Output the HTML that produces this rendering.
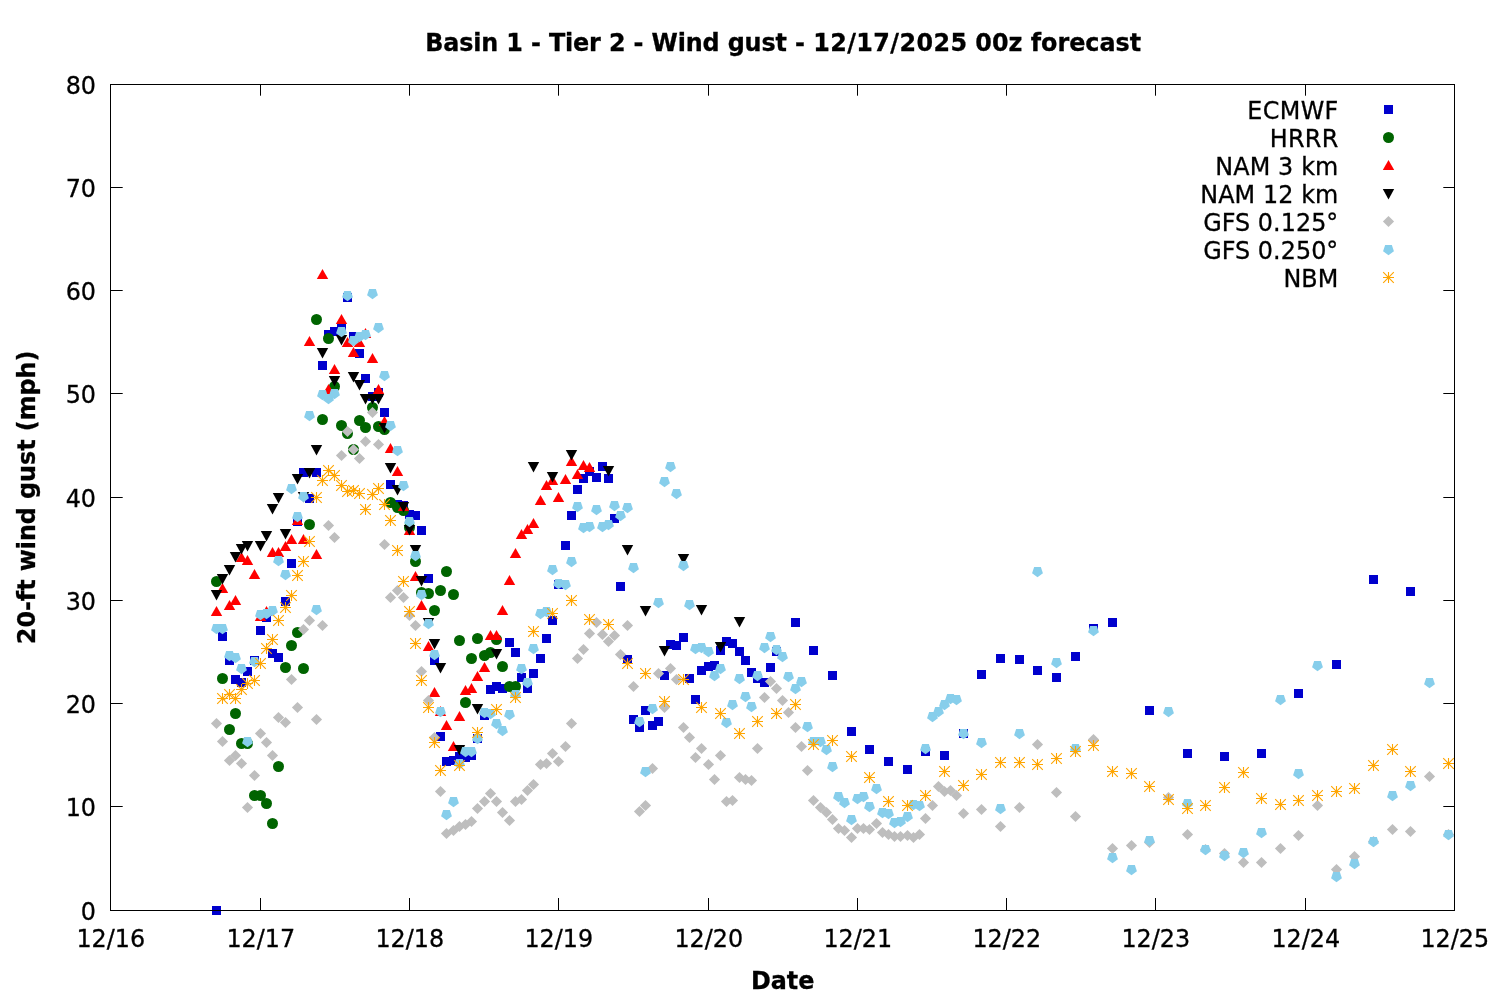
<!DOCTYPE html>
<html lang="en"><head><meta charset="utf-8"><title>Basin 1 - Tier 2 - Wind gust</title>
<style>html,body{margin:0;padding:0;background:#fff}svg{display:block}text{font-family:"DejaVu Sans","Liberation Sans",sans-serif;fill:#000;stroke:#000;stroke-width:.3px}.b{font-weight:bold}</style></head><body>
<svg width="1500" height="1000" viewBox="0 0 1500 1000">
<rect width="1500" height="1000" fill="#fff"/>
<defs>
<rect id="m1" x="-4.5" y="-4.5" width="9" height="9" fill="#0000cd"/>
<circle id="m2" r="5.5" fill="#006400"/>
<path id="m3" d="M0,-5.6 L5.7,4.6 L-5.7,4.6Z" fill="#ff0000"/>
<path id="m4" d="M0,5.9 L5.7,-4.4 L-5.7,-4.4Z" fill="#000"/>
<path id="m5" d="M0,-5.6 L5.6,0 L0,5.6 L-5.6,0Z" fill="#bebebe"/>
<path id="m6" d="M0.00,5.70 L-5.42,1.76 L-3.35,-4.61 L3.35,-4.61 L5.42,1.76Z" fill="#87ceeb"/>
<path id="m7" d="M0,-5.5V5.5M-5.5,0H5.5M-5.3,-5.3L5.3,5.3M-5.3,5.3L5.3,-5.3" stroke="#ffa500" stroke-width="1.1" fill="none"/>
</defs>
<text class="b" textLength="379.7" lengthAdjust="spacing" transform="translate(425.2,50.9) scale(1,1.04)" font-size="23.85" text-anchor="start">Basin 1 - Tier 2 - Wind gust -</text>
<text class="b" textLength="153.9" lengthAdjust="spacing" transform="translate(813.2,50.9) scale(1,1.04)" font-size="23.85" text-anchor="start">12/17/2025</text>
<text class="b" transform="translate(975.3,50.9) scale(1,1.04)" font-size="23.85" text-anchor="start">00z forecast</text>
<text class="b" transform="translate(782.7,989.1) scale(1,1.04)" font-size="23.85" text-anchor="middle">Date</text>
<text class="b" textLength="293.5" lengthAdjust="spacing" transform="translate(35.2,497.4) rotate(-90) scale(1,1.04)" font-size="23.85" text-anchor="middle">20-ft wind gust (mph)</text>
<text transform="translate(96.0,919.5) scale(1,1.04)" font-size="23.85" text-anchor="end">0</text>
<text transform="translate(96.0,815.5) scale(1,1.04)" font-size="23.85" text-anchor="end">10</text>
<text transform="translate(96.0,712.5) scale(1,1.04)" font-size="23.85" text-anchor="end">20</text>
<text transform="translate(96.0,609.5) scale(1,1.04)" font-size="23.85" text-anchor="end">30</text>
<text transform="translate(96.0,506.5) scale(1,1.04)" font-size="23.85" text-anchor="end">40</text>
<text transform="translate(96.0,402.5) scale(1,1.04)" font-size="23.85" text-anchor="end">50</text>
<text transform="translate(96.0,299.5) scale(1,1.04)" font-size="23.85" text-anchor="end">60</text>
<text transform="translate(96.0,196.5) scale(1,1.04)" font-size="23.85" text-anchor="end">70</text>
<text transform="translate(96.0,93.5) scale(1,1.04)" font-size="23.85" text-anchor="end">80</text>
<text transform="translate(110.8,947.3) scale(1,1.04)" font-size="23.85" text-anchor="middle">12/16</text>
<text transform="translate(260.8,947.3) scale(1,1.04)" font-size="23.85" text-anchor="middle">12/17</text>
<text transform="translate(409.8,947.3) scale(1,1.04)" font-size="23.85" text-anchor="middle">12/18</text>
<text transform="translate(558.8,947.3) scale(1,1.04)" font-size="23.85" text-anchor="middle">12/19</text>
<text transform="translate(708.8,947.3) scale(1,1.04)" font-size="23.85" text-anchor="middle">12/20</text>
<text transform="translate(857.8,947.3) scale(1,1.04)" font-size="23.85" text-anchor="middle">12/21</text>
<text transform="translate(1006.8,947.3) scale(1,1.04)" font-size="23.85" text-anchor="middle">12/22</text>
<text transform="translate(1155.8,947.3) scale(1,1.04)" font-size="23.85" text-anchor="middle">12/23</text>
<text transform="translate(1305.8,947.3) scale(1,1.04)" font-size="23.85" text-anchor="middle">12/24</text>
<text transform="translate(1454.8,947.3) scale(1,1.04)" font-size="23.85" text-anchor="middle">12/25</text>
<path d="M110.5,806.5h12.2M1454.5,806.5h-11.2M110.5,703.5h12.2M1454.5,703.5h-11.2M110.5,600.5h12.2M1454.5,600.5h-11.2M110.5,497.5h12.2M1454.5,497.5h-11.2M110.5,393.5h12.2M1454.5,393.5h-11.2M110.5,290.5h12.2M1454.5,290.5h-11.2M110.5,187.5h12.2M1454.5,187.5h-11.2M260.50,910.5v-12.5M260.50,84.5v11.2M409.50,910.5v-12.5M409.50,84.5v11.2M558.50,910.5v-12.5M558.50,84.5v11.2M708.50,910.5v-12.5M708.50,84.5v11.2M857.50,910.5v-12.5M857.50,84.5v11.2M1006.50,910.5v-12.5M1006.50,84.5v11.2M1155.50,910.5v-12.5M1155.50,84.5v11.2M1305.50,910.5v-12.5M1305.50,84.5v11.2" stroke="#000" stroke-width="1" fill="none"/>
<text letter-spacing="0.35" transform="translate(1338.6499999999999,119.0) scale(1,1.04)" font-size="23.85" text-anchor="end">ECMWF</text>
<use href="#m1" x="1388.5" y="109.5"/>
<text letter-spacing="0.3" transform="translate(1338.6,146.9) scale(1,1.04)" font-size="23.85" text-anchor="end">HRRR</text>
<use href="#m2" x="1388.5" y="137.5"/>
<text letter-spacing="0.13" transform="translate(1338.43,174.9) scale(1,1.04)" font-size="23.85" text-anchor="end">NAM 3 km</text>
<use href="#m3" x="1388.5" y="165.5"/>
<text letter-spacing="0.1" transform="translate(1338.3999999999999,202.9) scale(1,1.04)" font-size="23.85" text-anchor="end">NAM 12 km</text>
<use href="#m4" x="1388.5" y="193.5"/>
<text letter-spacing="0.05" transform="translate(1338.35,230.9) scale(1,1.04)" font-size="23.85" text-anchor="end">GFS 0.125°</text>
<use href="#m5" x="1388.5" y="221.5"/>
<text letter-spacing="0.05" transform="translate(1338.35,258.9) scale(1,1.04)" font-size="23.85" text-anchor="end">GFS 0.250°</text>
<use href="#m6" x="1388.5" y="249.5"/>
<text transform="translate(1338.3,286.9) scale(1,1.04)" font-size="23.85" text-anchor="end">NBM</text>
<use href="#m7" x="1388.5" y="277.5"/>
<g>
<use href="#m1" x="216.5" y="910.5"/>
<use href="#m1" x="222.5" y="636.5"/>
<use href="#m1" x="229.5" y="660.5"/>
<use href="#m1" x="235.5" y="679.5"/>
<use href="#m1" x="241.5" y="682.5"/>
<use href="#m1" x="247.5" y="671.5"/>
<use href="#m1" x="254.5" y="660.5"/>
<use href="#m1" x="260.5" y="630.5"/>
<use href="#m1" x="266.5" y="617.5"/>
<use href="#m1" x="272.5" y="653.5"/>
<use href="#m1" x="278.5" y="657.5"/>
<use href="#m1" x="285.5" y="601.5"/>
<use href="#m1" x="291.5" y="563.5"/>
<use href="#m1" x="297.5" y="521.5"/>
<use href="#m1" x="303.5" y="472.5"/>
<use href="#m1" x="309.5" y="498.5"/>
<use href="#m1" x="316.5" y="472.5"/>
<use href="#m1" x="322.5" y="365.5"/>
<use href="#m1" x="328.5" y="334.5"/>
<use href="#m1" x="334.5" y="331.5"/>
<use href="#m1" x="341.5" y="326.5"/>
<use href="#m1" x="347.5" y="297.5"/>
<use href="#m1" x="353.5" y="336.5"/>
<use href="#m1" x="359.5" y="353.5"/>
<use href="#m1" x="365.5" y="378.5"/>
<use href="#m1" x="372.5" y="396.5"/>
<use href="#m1" x="378.5" y="392.5"/>
<use href="#m1" x="384.5" y="412.5"/>
<use href="#m1" x="390.5" y="484.5"/>
<use href="#m1" x="397.5" y="504.5"/>
<use href="#m1" x="403.5" y="505.5"/>
<use href="#m1" x="409.5" y="514.5"/>
<use href="#m1" x="415.5" y="515.5"/>
<use href="#m1" x="421.5" y="530.5"/>
<use href="#m1" x="428.5" y="578.5"/>
<use href="#m1" x="434.5" y="660.5"/>
<use href="#m1" x="440.5" y="736.5"/>
<use href="#m1" x="446.5" y="761.5"/>
<use href="#m1" x="453.5" y="760.5"/>
<use href="#m1" x="459.5" y="756.5"/>
<use href="#m1" x="465.5" y="757.5"/>
<use href="#m1" x="471.5" y="755.5"/>
<use href="#m1" x="477.5" y="738.5"/>
<use href="#m1" x="484.5" y="715.5"/>
<use href="#m1" x="490.5" y="689.5"/>
<use href="#m1" x="496.5" y="686.5"/>
<use href="#m1" x="502.5" y="688.5"/>
<use href="#m1" x="509.5" y="642.5"/>
<use href="#m1" x="515.5" y="652.5"/>
<use href="#m1" x="521.5" y="677.5"/>
<use href="#m1" x="527.5" y="688.5"/>
<use href="#m1" x="533.5" y="673.5"/>
<use href="#m1" x="540.5" y="658.5"/>
<use href="#m1" x="546.5" y="638.5"/>
<use href="#m1" x="552.5" y="620.5"/>
<use href="#m1" x="558.5" y="584.5"/>
<use href="#m1" x="565.5" y="545.5"/>
<use href="#m1" x="571.5" y="515.5"/>
<use href="#m1" x="577.5" y="489.5"/>
<use href="#m1" x="583.5" y="478.5"/>
<use href="#m1" x="589.5" y="471.5"/>
<use href="#m1" x="596.5" y="477.5"/>
<use href="#m1" x="602.5" y="466.5"/>
<use href="#m1" x="608.5" y="478.5"/>
<use href="#m1" x="614.5" y="518.5"/>
<use href="#m1" x="620.5" y="586.5"/>
<use href="#m1" x="627.5" y="659.5"/>
<use href="#m1" x="633.5" y="719.5"/>
<use href="#m1" x="639.5" y="727.5"/>
<use href="#m1" x="645.5" y="710.5"/>
<use href="#m1" x="652.5" y="725.5"/>
<use href="#m1" x="658.5" y="721.5"/>
<use href="#m1" x="664.5" y="675.5"/>
<use href="#m1" x="670.5" y="644.5"/>
<use href="#m1" x="676.5" y="645.5"/>
<use href="#m1" x="683.5" y="637.5"/>
<use href="#m1" x="689.5" y="678.5"/>
<use href="#m1" x="695.5" y="699.5"/>
<use href="#m1" x="701.5" y="670.5"/>
<use href="#m1" x="708.5" y="666.5"/>
<use href="#m1" x="714.5" y="665.5"/>
<use href="#m1" x="720.5" y="650.5"/>
<use href="#m1" x="726.5" y="641.5"/>
<use href="#m1" x="732.5" y="643.5"/>
<use href="#m1" x="739.5" y="651.5"/>
<use href="#m1" x="745.5" y="660.5"/>
<use href="#m1" x="751.5" y="672.5"/>
<use href="#m1" x="757.5" y="678.5"/>
<use href="#m1" x="764.5" y="682.5"/>
<use href="#m1" x="770.5" y="667.5"/>
<use href="#m1" x="776.5" y="651.5"/>
<use href="#m1" x="795.5" y="622.5"/>
<use href="#m1" x="813.5" y="650.5"/>
<use href="#m1" x="832.5" y="675.5"/>
<use href="#m1" x="851.5" y="731.5"/>
<use href="#m1" x="869.5" y="749.5"/>
<use href="#m1" x="888.5" y="761.5"/>
<use href="#m1" x="907.5" y="769.5"/>
<use href="#m1" x="925.5" y="751.5"/>
<use href="#m1" x="944.5" y="755.5"/>
<use href="#m1" x="963.5" y="733.5"/>
<use href="#m1" x="981.5" y="674.5"/>
<use href="#m1" x="1000.5" y="658.5"/>
<use href="#m1" x="1019.5" y="659.5"/>
<use href="#m1" x="1037.5" y="670.5"/>
<use href="#m1" x="1056.5" y="677.5"/>
<use href="#m1" x="1075.5" y="656.5"/>
<use href="#m1" x="1093.5" y="628.5"/>
<use href="#m1" x="1112.5" y="622.5"/>
<use href="#m1" x="1149.5" y="710.5"/>
<use href="#m1" x="1187.5" y="753.5"/>
<use href="#m1" x="1224.5" y="756.5"/>
<use href="#m1" x="1261.5" y="753.5"/>
<use href="#m1" x="1298.5" y="693.5"/>
<use href="#m1" x="1336.5" y="664.5"/>
<use href="#m1" x="1373.5" y="579.5"/>
<use href="#m1" x="1410.5" y="591.5"/>
</g>
<g>
<use href="#m2" x="216.5" y="581.5"/>
<use href="#m2" x="222.5" y="678.5"/>
<use href="#m2" x="229.5" y="729.5"/>
<use href="#m2" x="235.5" y="713.5"/>
<use href="#m2" x="241.5" y="743.5"/>
<use href="#m2" x="247.5" y="743.5"/>
<use href="#m2" x="254.5" y="795.5"/>
<use href="#m2" x="260.5" y="795.5"/>
<use href="#m2" x="266.5" y="803.5"/>
<use href="#m2" x="272.5" y="823.5"/>
<use href="#m2" x="278.5" y="766.5"/>
<use href="#m2" x="285.5" y="667.5"/>
<use href="#m2" x="291.5" y="645.5"/>
<use href="#m2" x="297.5" y="632.5"/>
<use href="#m2" x="303.5" y="668.5"/>
<use href="#m2" x="309.5" y="524.5"/>
<use href="#m2" x="316.5" y="319.5"/>
<use href="#m2" x="322.5" y="419.5"/>
<use href="#m2" x="328.5" y="338.5"/>
<use href="#m2" x="334.5" y="386.5"/>
<use href="#m2" x="341.5" y="425.5"/>
<use href="#m2" x="347.5" y="433.5"/>
<use href="#m2" x="353.5" y="449.5"/>
<use href="#m2" x="359.5" y="420.5"/>
<use href="#m2" x="365.5" y="427.5"/>
<use href="#m2" x="372.5" y="407.5"/>
<use href="#m2" x="378.5" y="426.5"/>
<use href="#m2" x="384.5" y="429.5"/>
<use href="#m2" x="390.5" y="502.5"/>
<use href="#m2" x="397.5" y="507.5"/>
<use href="#m2" x="403.5" y="510.5"/>
<use href="#m2" x="409.5" y="527.5"/>
<use href="#m2" x="415.5" y="561.5"/>
<use href="#m2" x="421.5" y="592.5"/>
<use href="#m2" x="428.5" y="593.5"/>
<use href="#m2" x="434.5" y="610.5"/>
<use href="#m2" x="440.5" y="590.5"/>
<use href="#m2" x="446.5" y="571.5"/>
<use href="#m2" x="453.5" y="594.5"/>
<use href="#m2" x="459.5" y="640.5"/>
<use href="#m2" x="465.5" y="702.5"/>
<use href="#m2" x="471.5" y="658.5"/>
<use href="#m2" x="477.5" y="638.5"/>
<use href="#m2" x="484.5" y="655.5"/>
<use href="#m2" x="490.5" y="652.5"/>
<use href="#m2" x="496.5" y="639.5"/>
<use href="#m2" x="502.5" y="666.5"/>
<use href="#m2" x="509.5" y="686.5"/>
<use href="#m2" x="515.5" y="686.5"/>
</g>
<g>
<use href="#m3" x="216.5" y="611.5"/>
<use href="#m3" x="222.5" y="588.5"/>
<use href="#m3" x="229.5" y="605.5"/>
<use href="#m3" x="235.5" y="600.5"/>
<use href="#m3" x="241.5" y="557.5"/>
<use href="#m3" x="247.5" y="560.5"/>
<use href="#m3" x="254.5" y="574.5"/>
<use href="#m3" x="260.5" y="616.5"/>
<use href="#m3" x="266.5" y="611.5"/>
<use href="#m3" x="272.5" y="552.5"/>
<use href="#m3" x="278.5" y="552.5"/>
<use href="#m3" x="285.5" y="546.5"/>
<use href="#m3" x="291.5" y="539.5"/>
<use href="#m3" x="297.5" y="520.5"/>
<use href="#m3" x="303.5" y="539.5"/>
<use href="#m3" x="309.5" y="341.5"/>
<use href="#m3" x="316.5" y="554.5"/>
<use href="#m3" x="322.5" y="274.5"/>
<use href="#m3" x="328.5" y="389.5"/>
<use href="#m3" x="334.5" y="369.5"/>
<use href="#m3" x="341.5" y="319.5"/>
<use href="#m3" x="347.5" y="342.5"/>
<use href="#m3" x="353.5" y="352.5"/>
<use href="#m3" x="359.5" y="342.5"/>
<use href="#m3" x="365.5" y="333.5"/>
<use href="#m3" x="372.5" y="358.5"/>
<use href="#m3" x="378.5" y="389.5"/>
<use href="#m3" x="384.5" y="421.5"/>
<use href="#m3" x="390.5" y="448.5"/>
<use href="#m3" x="397.5" y="471.5"/>
<use href="#m3" x="403.5" y="506.5"/>
<use href="#m3" x="409.5" y="530.5"/>
<use href="#m3" x="415.5" y="576.5"/>
<use href="#m3" x="421.5" y="605.5"/>
<use href="#m3" x="428.5" y="646.5"/>
<use href="#m3" x="434.5" y="692.5"/>
<use href="#m3" x="440.5" y="711.5"/>
<use href="#m3" x="446.5" y="725.5"/>
<use href="#m3" x="453.5" y="746.5"/>
<use href="#m3" x="459.5" y="716.5"/>
<use href="#m3" x="465.5" y="690.5"/>
<use href="#m3" x="471.5" y="688.5"/>
<use href="#m3" x="477.5" y="676.5"/>
<use href="#m3" x="484.5" y="667.5"/>
<use href="#m3" x="490.5" y="635.5"/>
<use href="#m3" x="496.5" y="635.5"/>
<use href="#m3" x="502.5" y="610.5"/>
<use href="#m3" x="509.5" y="580.5"/>
<use href="#m3" x="515.5" y="553.5"/>
<use href="#m3" x="521.5" y="534.5"/>
<use href="#m3" x="527.5" y="529.5"/>
<use href="#m3" x="533.5" y="523.5"/>
<use href="#m3" x="540.5" y="500.5"/>
<use href="#m3" x="546.5" y="485.5"/>
<use href="#m3" x="552.5" y="480.5"/>
<use href="#m3" x="558.5" y="497.5"/>
<use href="#m3" x="565.5" y="479.5"/>
<use href="#m3" x="571.5" y="461.5"/>
<use href="#m3" x="577.5" y="474.5"/>
<use href="#m3" x="583.5" y="465.5"/>
<use href="#m3" x="589.5" y="467.5"/>
</g>
<g>
<use href="#m4" x="216.5" y="594.5"/>
<use href="#m4" x="222.5" y="578.5"/>
<use href="#m4" x="229.5" y="569.5"/>
<use href="#m4" x="235.5" y="556.5"/>
<use href="#m4" x="241.5" y="548.5"/>
<use href="#m4" x="247.5" y="545.5"/>
<use href="#m4" x="260.5" y="545.5"/>
<use href="#m4" x="266.5" y="535.5"/>
<use href="#m4" x="272.5" y="508.5"/>
<use href="#m4" x="278.5" y="497.5"/>
<use href="#m4" x="285.5" y="533.5"/>
<use href="#m4" x="297.5" y="478.5"/>
<use href="#m4" x="303.5" y="496.5"/>
<use href="#m4" x="309.5" y="472.5"/>
<use href="#m4" x="316.5" y="449.5"/>
<use href="#m4" x="322.5" y="352.5"/>
<use href="#m4" x="334.5" y="380.5"/>
<use href="#m4" x="341.5" y="339.5"/>
<use href="#m4" x="353.5" y="376.5"/>
<use href="#m4" x="359.5" y="384.5"/>
<use href="#m4" x="365.5" y="398.5"/>
<use href="#m4" x="372.5" y="398.5"/>
<use href="#m4" x="378.5" y="398.5"/>
<use href="#m4" x="384.5" y="427.5"/>
<use href="#m4" x="390.5" y="467.5"/>
<use href="#m4" x="397.5" y="489.5"/>
<use href="#m4" x="403.5" y="506.5"/>
<use href="#m4" x="409.5" y="529.5"/>
<use href="#m4" x="415.5" y="549.5"/>
<use href="#m4" x="421.5" y="580.5"/>
<use href="#m4" x="428.5" y="622.5"/>
<use href="#m4" x="434.5" y="643.5"/>
<use href="#m4" x="440.5" y="667.5"/>
<use href="#m4" x="459.5" y="749.5"/>
<use href="#m4" x="477.5" y="708.5"/>
<use href="#m4" x="496.5" y="653.5"/>
<use href="#m4" x="533.5" y="466.5"/>
<use href="#m4" x="552.5" y="476.5"/>
<use href="#m4" x="571.5" y="454.5"/>
<use href="#m4" x="608.5" y="470.5"/>
<use href="#m4" x="627.5" y="549.5"/>
<use href="#m4" x="645.5" y="610.5"/>
<use href="#m4" x="664.5" y="650.5"/>
<use href="#m4" x="683.5" y="558.5"/>
<use href="#m4" x="701.5" y="609.5"/>
<use href="#m4" x="720.5" y="646.5"/>
<use href="#m4" x="739.5" y="621.5"/>
</g>
<g>
<use href="#m5" x="216.5" y="723.5"/>
<use href="#m5" x="222.5" y="741.5"/>
<use href="#m5" x="229.5" y="760.5"/>
<use href="#m5" x="235.5" y="755.5"/>
<use href="#m5" x="241.5" y="763.5"/>
<use href="#m5" x="247.5" y="807.5"/>
<use href="#m5" x="254.5" y="775.5"/>
<use href="#m5" x="260.5" y="733.5"/>
<use href="#m5" x="266.5" y="742.5"/>
<use href="#m5" x="272.5" y="755.5"/>
<use href="#m5" x="278.5" y="717.5"/>
<use href="#m5" x="285.5" y="722.5"/>
<use href="#m5" x="291.5" y="679.5"/>
<use href="#m5" x="297.5" y="707.5"/>
<use href="#m5" x="303.5" y="629.5"/>
<use href="#m5" x="309.5" y="620.5"/>
<use href="#m5" x="316.5" y="719.5"/>
<use href="#m5" x="322.5" y="625.5"/>
<use href="#m5" x="328.5" y="525.5"/>
<use href="#m5" x="334.5" y="537.5"/>
<use href="#m5" x="341.5" y="455.5"/>
<use href="#m5" x="347.5" y="431.5"/>
<use href="#m5" x="353.5" y="449.5"/>
<use href="#m5" x="359.5" y="458.5"/>
<use href="#m5" x="365.5" y="441.5"/>
<use href="#m5" x="372.5" y="412.5"/>
<use href="#m5" x="378.5" y="444.5"/>
<use href="#m5" x="384.5" y="544.5"/>
<use href="#m5" x="390.5" y="597.5"/>
<use href="#m5" x="397.5" y="590.5"/>
<use href="#m5" x="403.5" y="597.5"/>
<use href="#m5" x="409.5" y="615.5"/>
<use href="#m5" x="415.5" y="625.5"/>
<use href="#m5" x="421.5" y="671.5"/>
<use href="#m5" x="428.5" y="700.5"/>
<use href="#m5" x="434.5" y="737.5"/>
<use href="#m5" x="440.5" y="791.5"/>
<use href="#m5" x="446.5" y="833.5"/>
<use href="#m5" x="453.5" y="830.5"/>
<use href="#m5" x="459.5" y="826.5"/>
<use href="#m5" x="465.5" y="824.5"/>
<use href="#m5" x="471.5" y="821.5"/>
<use href="#m5" x="477.5" y="808.5"/>
<use href="#m5" x="484.5" y="801.5"/>
<use href="#m5" x="490.5" y="793.5"/>
<use href="#m5" x="496.5" y="801.5"/>
<use href="#m5" x="502.5" y="812.5"/>
<use href="#m5" x="509.5" y="820.5"/>
<use href="#m5" x="515.5" y="801.5"/>
<use href="#m5" x="521.5" y="799.5"/>
<use href="#m5" x="527.5" y="790.5"/>
<use href="#m5" x="533.5" y="784.5"/>
<use href="#m5" x="540.5" y="764.5"/>
<use href="#m5" x="546.5" y="763.5"/>
<use href="#m5" x="552.5" y="753.5"/>
<use href="#m5" x="558.5" y="761.5"/>
<use href="#m5" x="565.5" y="746.5"/>
<use href="#m5" x="571.5" y="723.5"/>
<use href="#m5" x="577.5" y="658.5"/>
<use href="#m5" x="583.5" y="649.5"/>
<use href="#m5" x="589.5" y="633.5"/>
<use href="#m5" x="596.5" y="622.5"/>
<use href="#m5" x="602.5" y="634.5"/>
<use href="#m5" x="608.5" y="641.5"/>
<use href="#m5" x="614.5" y="635.5"/>
<use href="#m5" x="620.5" y="654.5"/>
<use href="#m5" x="627.5" y="625.5"/>
<use href="#m5" x="633.5" y="686.5"/>
<use href="#m5" x="639.5" y="811.5"/>
<use href="#m5" x="645.5" y="805.5"/>
<use href="#m5" x="652.5" y="768.5"/>
<use href="#m5" x="658.5" y="673.5"/>
<use href="#m5" x="664.5" y="707.5"/>
<use href="#m5" x="670.5" y="668.5"/>
<use href="#m5" x="676.5" y="679.5"/>
<use href="#m5" x="683.5" y="727.5"/>
<use href="#m5" x="689.5" y="737.5"/>
<use href="#m5" x="695.5" y="757.5"/>
<use href="#m5" x="701.5" y="748.5"/>
<use href="#m5" x="708.5" y="764.5"/>
<use href="#m5" x="714.5" y="779.5"/>
<use href="#m5" x="720.5" y="755.5"/>
<use href="#m5" x="726.5" y="801.5"/>
<use href="#m5" x="732.5" y="800.5"/>
<use href="#m5" x="739.5" y="777.5"/>
<use href="#m5" x="745.5" y="779.5"/>
<use href="#m5" x="751.5" y="780.5"/>
<use href="#m5" x="757.5" y="748.5"/>
<use href="#m5" x="764.5" y="697.5"/>
<use href="#m5" x="770.5" y="681.5"/>
<use href="#m5" x="776.5" y="688.5"/>
<use href="#m5" x="782.5" y="700.5"/>
<use href="#m5" x="788.5" y="712.5"/>
<use href="#m5" x="795.5" y="727.5"/>
<use href="#m5" x="801.5" y="746.5"/>
<use href="#m5" x="807.5" y="770.5"/>
<use href="#m5" x="813.5" y="800.5"/>
<use href="#m5" x="820.5" y="807.5"/>
<use href="#m5" x="826.5" y="812.5"/>
<use href="#m5" x="832.5" y="819.5"/>
<use href="#m5" x="838.5" y="828.5"/>
<use href="#m5" x="844.5" y="830.5"/>
<use href="#m5" x="851.5" y="837.5"/>
<use href="#m5" x="857.5" y="828.5"/>
<use href="#m5" x="863.5" y="828.5"/>
<use href="#m5" x="869.5" y="829.5"/>
<use href="#m5" x="876.5" y="823.5"/>
<use href="#m5" x="882.5" y="832.5"/>
<use href="#m5" x="888.5" y="834.5"/>
<use href="#m5" x="894.5" y="836.5"/>
<use href="#m5" x="900.5" y="836.5"/>
<use href="#m5" x="907.5" y="835.5"/>
<use href="#m5" x="913.5" y="837.5"/>
<use href="#m5" x="919.5" y="834.5"/>
<use href="#m5" x="925.5" y="818.5"/>
<use href="#m5" x="932.5" y="805.5"/>
<use href="#m5" x="938.5" y="786.5"/>
<use href="#m5" x="944.5" y="791.5"/>
<use href="#m5" x="950.5" y="790.5"/>
<use href="#m5" x="956.5" y="795.5"/>
<use href="#m5" x="963.5" y="813.5"/>
<use href="#m5" x="981.5" y="809.5"/>
<use href="#m5" x="1000.5" y="826.5"/>
<use href="#m5" x="1019.5" y="807.5"/>
<use href="#m5" x="1037.5" y="744.5"/>
<use href="#m5" x="1056.5" y="792.5"/>
<use href="#m5" x="1075.5" y="816.5"/>
<use href="#m5" x="1093.5" y="739.5"/>
<use href="#m5" x="1112.5" y="848.5"/>
<use href="#m5" x="1131.5" y="845.5"/>
<use href="#m5" x="1149.5" y="842.5"/>
<use href="#m5" x="1168.5" y="797.5"/>
<use href="#m5" x="1187.5" y="834.5"/>
<use href="#m5" x="1205.5" y="849.5"/>
<use href="#m5" x="1224.5" y="853.5"/>
<use href="#m5" x="1243.5" y="862.5"/>
<use href="#m5" x="1261.5" y="862.5"/>
<use href="#m5" x="1280.5" y="848.5"/>
<use href="#m5" x="1298.5" y="835.5"/>
<use href="#m5" x="1317.5" y="805.5"/>
<use href="#m5" x="1336.5" y="869.5"/>
<use href="#m5" x="1354.5" y="856.5"/>
<use href="#m5" x="1373.5" y="841.5"/>
<use href="#m5" x="1392.5" y="829.5"/>
<use href="#m5" x="1410.5" y="831.5"/>
<use href="#m5" x="1429.5" y="776.5"/>
<use href="#m5" x="1448.5" y="834.5"/>
</g>
<g>
<use href="#m6" x="216.5" y="628.5"/>
<use href="#m6" x="222.5" y="628.5"/>
<use href="#m6" x="229.5" y="655.5"/>
<use href="#m6" x="235.5" y="657.5"/>
<use href="#m6" x="241.5" y="668.5"/>
<use href="#m6" x="247.5" y="741.5"/>
<use href="#m6" x="254.5" y="661.5"/>
<use href="#m6" x="260.5" y="614.5"/>
<use href="#m6" x="266.5" y="613.5"/>
<use href="#m6" x="272.5" y="610.5"/>
<use href="#m6" x="278.5" y="560.5"/>
<use href="#m6" x="285.5" y="574.5"/>
<use href="#m6" x="291.5" y="488.5"/>
<use href="#m6" x="297.5" y="516.5"/>
<use href="#m6" x="303.5" y="496.5"/>
<use href="#m6" x="309.5" y="415.5"/>
<use href="#m6" x="316.5" y="609.5"/>
<use href="#m6" x="322.5" y="394.5"/>
<use href="#m6" x="328.5" y="398.5"/>
<use href="#m6" x="334.5" y="393.5"/>
<use href="#m6" x="341.5" y="331.5"/>
<use href="#m6" x="347.5" y="295.5"/>
<use href="#m6" x="353.5" y="340.5"/>
<use href="#m6" x="359.5" y="336.5"/>
<use href="#m6" x="365.5" y="334.5"/>
<use href="#m6" x="372.5" y="293.5"/>
<use href="#m6" x="378.5" y="327.5"/>
<use href="#m6" x="384.5" y="375.5"/>
<use href="#m6" x="390.5" y="425.5"/>
<use href="#m6" x="397.5" y="450.5"/>
<use href="#m6" x="403.5" y="485.5"/>
<use href="#m6" x="409.5" y="521.5"/>
<use href="#m6" x="415.5" y="555.5"/>
<use href="#m6" x="421.5" y="594.5"/>
<use href="#m6" x="428.5" y="623.5"/>
<use href="#m6" x="434.5" y="654.5"/>
<use href="#m6" x="440.5" y="711.5"/>
<use href="#m6" x="446.5" y="814.5"/>
<use href="#m6" x="453.5" y="801.5"/>
<use href="#m6" x="459.5" y="763.5"/>
<use href="#m6" x="465.5" y="751.5"/>
<use href="#m6" x="471.5" y="751.5"/>
<use href="#m6" x="477.5" y="738.5"/>
<use href="#m6" x="484.5" y="712.5"/>
<use href="#m6" x="490.5" y="713.5"/>
<use href="#m6" x="496.5" y="723.5"/>
<use href="#m6" x="502.5" y="730.5"/>
<use href="#m6" x="509.5" y="714.5"/>
<use href="#m6" x="515.5" y="694.5"/>
<use href="#m6" x="521.5" y="668.5"/>
<use href="#m6" x="527.5" y="682.5"/>
<use href="#m6" x="533.5" y="648.5"/>
<use href="#m6" x="540.5" y="613.5"/>
<use href="#m6" x="546.5" y="611.5"/>
<use href="#m6" x="552.5" y="569.5"/>
<use href="#m6" x="558.5" y="583.5"/>
<use href="#m6" x="565.5" y="584.5"/>
<use href="#m6" x="571.5" y="561.5"/>
<use href="#m6" x="577.5" y="506.5"/>
<use href="#m6" x="583.5" y="527.5"/>
<use href="#m6" x="589.5" y="526.5"/>
<use href="#m6" x="596.5" y="509.5"/>
<use href="#m6" x="602.5" y="526.5"/>
<use href="#m6" x="608.5" y="524.5"/>
<use href="#m6" x="614.5" y="505.5"/>
<use href="#m6" x="620.5" y="515.5"/>
<use href="#m6" x="627.5" y="507.5"/>
<use href="#m6" x="633.5" y="567.5"/>
<use href="#m6" x="639.5" y="721.5"/>
<use href="#m6" x="645.5" y="771.5"/>
<use href="#m6" x="652.5" y="708.5"/>
<use href="#m6" x="658.5" y="602.5"/>
<use href="#m6" x="664.5" y="481.5"/>
<use href="#m6" x="670.5" y="466.5"/>
<use href="#m6" x="676.5" y="493.5"/>
<use href="#m6" x="683.5" y="565.5"/>
<use href="#m6" x="689.5" y="604.5"/>
<use href="#m6" x="695.5" y="648.5"/>
<use href="#m6" x="701.5" y="647.5"/>
<use href="#m6" x="708.5" y="651.5"/>
<use href="#m6" x="714.5" y="675.5"/>
<use href="#m6" x="720.5" y="668.5"/>
<use href="#m6" x="726.5" y="722.5"/>
<use href="#m6" x="732.5" y="704.5"/>
<use href="#m6" x="739.5" y="678.5"/>
<use href="#m6" x="745.5" y="696.5"/>
<use href="#m6" x="751.5" y="706.5"/>
<use href="#m6" x="757.5" y="675.5"/>
<use href="#m6" x="764.5" y="647.5"/>
<use href="#m6" x="770.5" y="636.5"/>
<use href="#m6" x="776.5" y="649.5"/>
<use href="#m6" x="782.5" y="656.5"/>
<use href="#m6" x="788.5" y="676.5"/>
<use href="#m6" x="795.5" y="688.5"/>
<use href="#m6" x="801.5" y="681.5"/>
<use href="#m6" x="807.5" y="726.5"/>
<use href="#m6" x="813.5" y="741.5"/>
<use href="#m6" x="820.5" y="741.5"/>
<use href="#m6" x="826.5" y="749.5"/>
<use href="#m6" x="832.5" y="766.5"/>
<use href="#m6" x="838.5" y="796.5"/>
<use href="#m6" x="844.5" y="802.5"/>
<use href="#m6" x="851.5" y="819.5"/>
<use href="#m6" x="857.5" y="798.5"/>
<use href="#m6" x="863.5" y="796.5"/>
<use href="#m6" x="869.5" y="806.5"/>
<use href="#m6" x="876.5" y="788.5"/>
<use href="#m6" x="882.5" y="812.5"/>
<use href="#m6" x="888.5" y="813.5"/>
<use href="#m6" x="894.5" y="822.5"/>
<use href="#m6" x="900.5" y="821.5"/>
<use href="#m6" x="907.5" y="816.5"/>
<use href="#m6" x="913.5" y="804.5"/>
<use href="#m6" x="919.5" y="805.5"/>
<use href="#m6" x="925.5" y="748.5"/>
<use href="#m6" x="932.5" y="716.5"/>
<use href="#m6" x="938.5" y="711.5"/>
<use href="#m6" x="944.5" y="704.5"/>
<use href="#m6" x="950.5" y="698.5"/>
<use href="#m6" x="956.5" y="699.5"/>
<use href="#m6" x="963.5" y="733.5"/>
<use href="#m6" x="981.5" y="742.5"/>
<use href="#m6" x="1000.5" y="808.5"/>
<use href="#m6" x="1019.5" y="733.5"/>
<use href="#m6" x="1037.5" y="571.5"/>
<use href="#m6" x="1056.5" y="662.5"/>
<use href="#m6" x="1075.5" y="748.5"/>
<use href="#m6" x="1093.5" y="630.5"/>
<use href="#m6" x="1112.5" y="857.5"/>
<use href="#m6" x="1131.5" y="869.5"/>
<use href="#m6" x="1149.5" y="840.5"/>
<use href="#m6" x="1168.5" y="711.5"/>
<use href="#m6" x="1187.5" y="803.5"/>
<use href="#m6" x="1205.5" y="849.5"/>
<use href="#m6" x="1224.5" y="855.5"/>
<use href="#m6" x="1243.5" y="852.5"/>
<use href="#m6" x="1261.5" y="832.5"/>
<use href="#m6" x="1280.5" y="699.5"/>
<use href="#m6" x="1298.5" y="773.5"/>
<use href="#m6" x="1317.5" y="665.5"/>
<use href="#m6" x="1336.5" y="876.5"/>
<use href="#m6" x="1354.5" y="863.5"/>
<use href="#m6" x="1373.5" y="841.5"/>
<use href="#m6" x="1392.5" y="795.5"/>
<use href="#m6" x="1410.5" y="785.5"/>
<use href="#m6" x="1429.5" y="682.5"/>
<use href="#m6" x="1448.5" y="834.5"/>
</g>
<g>
<use href="#m7" x="222.5" y="698.5"/>
<use href="#m7" x="229.5" y="694.5"/>
<use href="#m7" x="235.5" y="698.5"/>
<use href="#m7" x="241.5" y="689.5"/>
<use href="#m7" x="247.5" y="683.5"/>
<use href="#m7" x="254.5" y="680.5"/>
<use href="#m7" x="260.5" y="663.5"/>
<use href="#m7" x="266.5" y="648.5"/>
<use href="#m7" x="272.5" y="639.5"/>
<use href="#m7" x="278.5" y="620.5"/>
<use href="#m7" x="285.5" y="607.5"/>
<use href="#m7" x="291.5" y="595.5"/>
<use href="#m7" x="297.5" y="575.5"/>
<use href="#m7" x="303.5" y="561.5"/>
<use href="#m7" x="309.5" y="541.5"/>
<use href="#m7" x="316.5" y="497.5"/>
<use href="#m7" x="322.5" y="480.5"/>
<use href="#m7" x="328.5" y="470.5"/>
<use href="#m7" x="334.5" y="475.5"/>
<use href="#m7" x="341.5" y="485.5"/>
<use href="#m7" x="347.5" y="491.5"/>
<use href="#m7" x="353.5" y="490.5"/>
<use href="#m7" x="359.5" y="493.5"/>
<use href="#m7" x="365.5" y="509.5"/>
<use href="#m7" x="372.5" y="494.5"/>
<use href="#m7" x="378.5" y="488.5"/>
<use href="#m7" x="384.5" y="504.5"/>
<use href="#m7" x="390.5" y="520.5"/>
<use href="#m7" x="397.5" y="550.5"/>
<use href="#m7" x="403.5" y="581.5"/>
<use href="#m7" x="409.5" y="611.5"/>
<use href="#m7" x="415.5" y="643.5"/>
<use href="#m7" x="421.5" y="680.5"/>
<use href="#m7" x="428.5" y="707.5"/>
<use href="#m7" x="434.5" y="742.5"/>
<use href="#m7" x="440.5" y="770.5"/>
<use href="#m7" x="459.5" y="765.5"/>
<use href="#m7" x="477.5" y="732.5"/>
<use href="#m7" x="496.5" y="709.5"/>
<use href="#m7" x="515.5" y="697.5"/>
<use href="#m7" x="533.5" y="631.5"/>
<use href="#m7" x="552.5" y="613.5"/>
<use href="#m7" x="571.5" y="600.5"/>
<use href="#m7" x="589.5" y="619.5"/>
<use href="#m7" x="608.5" y="624.5"/>
<use href="#m7" x="627.5" y="663.5"/>
<use href="#m7" x="645.5" y="673.5"/>
<use href="#m7" x="664.5" y="701.5"/>
<use href="#m7" x="683.5" y="679.5"/>
<use href="#m7" x="701.5" y="707.5"/>
<use href="#m7" x="720.5" y="713.5"/>
<use href="#m7" x="739.5" y="733.5"/>
<use href="#m7" x="757.5" y="721.5"/>
<use href="#m7" x="776.5" y="713.5"/>
<use href="#m7" x="795.5" y="704.5"/>
<use href="#m7" x="813.5" y="744.5"/>
<use href="#m7" x="832.5" y="740.5"/>
<use href="#m7" x="851.5" y="756.5"/>
<use href="#m7" x="869.5" y="777.5"/>
<use href="#m7" x="888.5" y="801.5"/>
<use href="#m7" x="907.5" y="805.5"/>
<use href="#m7" x="925.5" y="795.5"/>
<use href="#m7" x="944.5" y="771.5"/>
<use href="#m7" x="963.5" y="785.5"/>
<use href="#m7" x="981.5" y="774.5"/>
<use href="#m7" x="1000.5" y="762.5"/>
<use href="#m7" x="1019.5" y="762.5"/>
<use href="#m7" x="1037.5" y="764.5"/>
<use href="#m7" x="1056.5" y="758.5"/>
<use href="#m7" x="1075.5" y="751.5"/>
<use href="#m7" x="1093.5" y="745.5"/>
<use href="#m7" x="1112.5" y="771.5"/>
<use href="#m7" x="1131.5" y="773.5"/>
<use href="#m7" x="1149.5" y="786.5"/>
<use href="#m7" x="1168.5" y="799.5"/>
<use href="#m7" x="1187.5" y="808.5"/>
<use href="#m7" x="1205.5" y="805.5"/>
<use href="#m7" x="1224.5" y="787.5"/>
<use href="#m7" x="1243.5" y="772.5"/>
<use href="#m7" x="1261.5" y="798.5"/>
<use href="#m7" x="1280.5" y="804.5"/>
<use href="#m7" x="1298.5" y="800.5"/>
<use href="#m7" x="1317.5" y="795.5"/>
<use href="#m7" x="1336.5" y="791.5"/>
<use href="#m7" x="1354.5" y="788.5"/>
<use href="#m7" x="1373.5" y="765.5"/>
<use href="#m7" x="1392.5" y="749.5"/>
<use href="#m7" x="1410.5" y="771.5"/>
<use href="#m7" x="1448.5" y="763.5"/>
</g>
<rect x="110.5" y="84.5" width="1344.0" height="826.0" fill="none" stroke="#000" stroke-width="1"/>
</svg></body></html>
